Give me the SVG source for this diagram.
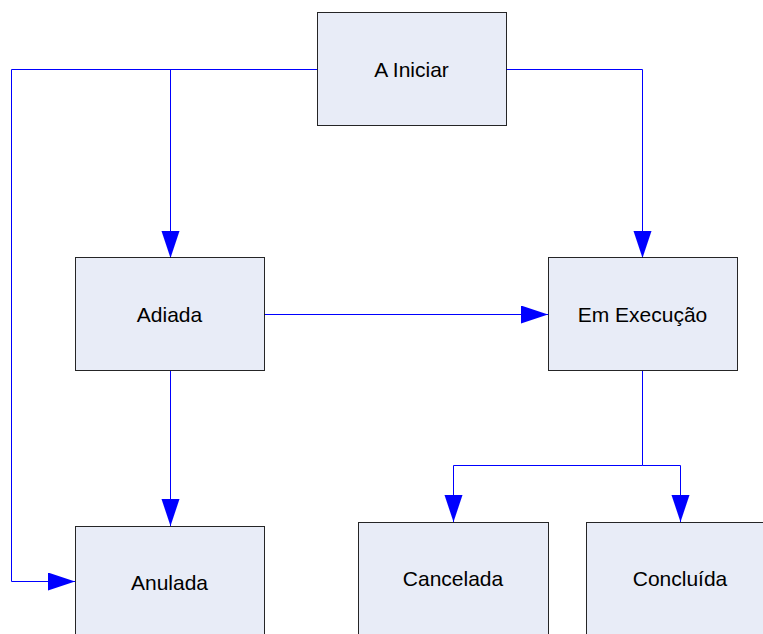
<svg xmlns="http://www.w3.org/2000/svg" width="763" height="634" viewBox="0 0 763 634">
<style>
.node rect{fill:#E8ECF7;stroke:#000;stroke-opacity:0.85;stroke-width:1}
.node text{font-family:"Liberation Sans",Arial,sans-serif;font-size:21px;fill:#000;text-anchor:middle}
.conn path{fill:none;stroke:#0000FF;stroke-width:1}
</style>
<defs>
<marker id="arr" markerUnits="userSpaceOnUse" markerWidth="28" markerHeight="19" refX="27" refY="9" orient="auto" viewBox="0 0 28 19">
<path d="M0,0 L27,9 L0,18 Z" fill="#0000FF"/>
</marker>
</defs>
<rect width="763" height="634" fill="#fff"/>
<g class="conn" id="connectors">
<path d="M317,69.5 H11.5 V581.5 H75" marker-end="url(#arr)"/>
<path d="M170.5,69.5 V258" marker-end="url(#arr)"/>
<path d="M506,69.5 H642.5 V258" marker-end="url(#arr)"/>
<path d="M264,314.5 H548" marker-end="url(#arr)"/>
<path d="M170.5,371 V526" marker-end="url(#arr)"/>
<path d="M642.5,371 V465.5 H453.5 V522" marker-end="url(#arr)"/>
<path d="M642.5,465.5 H680.5 V522" marker-end="url(#arr)"/>
</g>
<g class="node" id="a-iniciar"><rect x="317.5" y="12.5" width="189" height="113"/><text x="411.5" y="76.5">A Iniciar</text></g>
<g class="node" id="adiada"><rect x="75.5" y="257.5" width="189" height="113"/><text x="169.5" y="321.5">Adiada</text></g>
<g class="node" id="em-execucao"><rect x="548.5" y="257.5" width="189" height="113"/><text x="642.5" y="321.5">Em Execução</text></g>
<g class="node" id="anulada"><rect x="75.5" y="526.5" width="189" height="113"/><text x="169.5" y="589.5">Anulada</text></g>
<g class="node" id="cancelada"><rect x="358.5" y="522.5" width="190" height="113"/><text x="453" y="585.5">Cancelada</text></g>
<g class="node" id="concluida"><rect x="586.5" y="522.5" width="189" height="113"/><text x="680" y="585.5">Concluída</text></g>
</svg>
